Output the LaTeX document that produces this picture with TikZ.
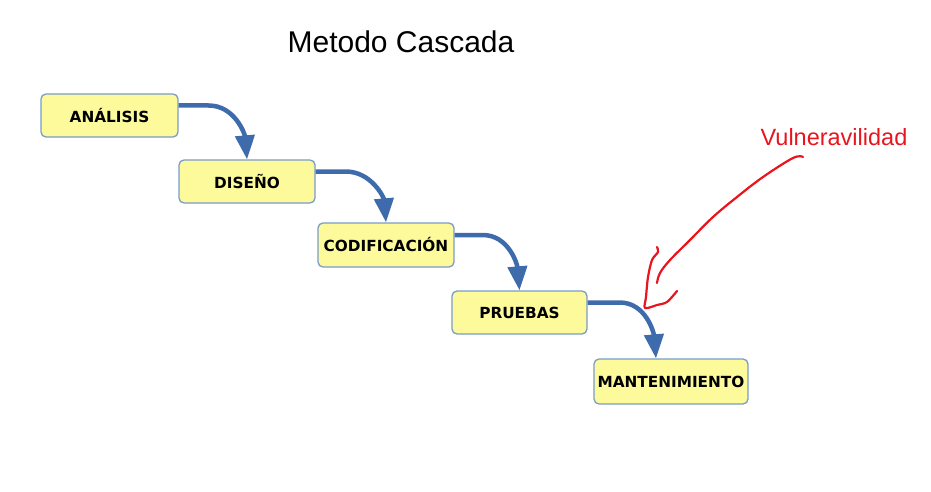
\documentclass[tikz,border=0pt]{standalone}
\usepackage{fontspec}
\setmainfont{Liberation Sans}
\newfontfamily\boxfont{DejaVu Sans}
\usetikzlibrary{arrows.meta,calc}
\definecolor{boxfill}{RGB}{253,250,156}
\definecolor{boxline}{RGB}{122,156,198}
\definecolor{flowblue}{RGB}{61,107,172}
\definecolor{penred}{RGB}{232,20,30}
\begin{document}
\begin{tikzpicture}[x=1pt,y=1pt,
  stage/.style={draw=boxline,line width=1.3pt,fill=boxfill,rounded corners=5pt,
    minimum height=43pt,inner sep=0pt,font=\boxfont\bfseries\fontsize{15.3}{17}\selectfont,text=black},
  flow/.style={draw=flowblue,line width=4.5pt,-{Triangle[width=19pt,length=24pt]}},
  pen/.style={draw=penred,line width=2.2pt,line cap=round,line join=round}]
\useasboundingbox (0,0) rectangle (931,491);
\node (title) at (401,449) {\fontsize{30}{35}\selectfont Metodo Cascada};
\node[text=penred] (vul) at (834,354) {\fontsize{23.5}{28}\selectfont Vulneravilidad};
\node[stage,minimum width=137pt] (a) at (109.5,375.5) {ANÁLISIS};
\node[stage,minimum width=136pt] (d) at (247,309.5) {DISEÑO};
\node[stage,minimum width=136pt,minimum height=44pt] (c) at (386,246) {CODIFICACIÓN};
\node[stage,minimum width=135pt] (p) at (519.5,178.5) {PRUEBAS};
\node[stage,minimum width=154pt,minimum height=45pt] (m) at (671,109.5) {MANTENIMIENTO};
\coordinate (mtop) at ($(m.north)+(-15,0)$);
\draw[flow] ($(a.east)+(0,10)$) -- ++(30,0) to[out=0,in=95] (d.north);
\draw[flow] ($(d.east)+(0,10)$) -- ++(30,0) to[out=0,in=95] (c.north);
\draw[flow] ($(c.east)+(0,10)$) -- ++(28,0) to[out=0,in=95] (p.north);
\draw[flow] ($(p.east)+(0,10)$) -- ++(32,0) to[out=0,in=95] (mtop);
\draw[pen] plot[smooth,tension=0.6] coordinates {(803,334) (793,333) (763,314) (737,294) (713,274) (690,251) (670,231) (660,218) (657,208)};
\draw[pen] plot[smooth,tension=0.5] coordinates {(657,244) (658,239) (652,231) (648,214) (646,194) (645,183) (657,186) (667,189) (677,200)};
\end{tikzpicture}
\end{document}
